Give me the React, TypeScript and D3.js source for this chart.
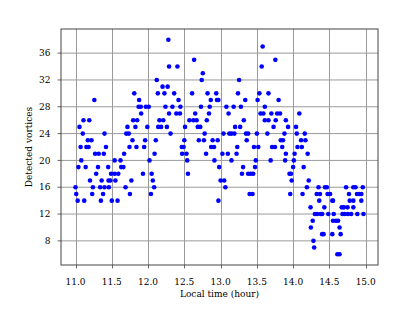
import React from "react";
import * as d3 from "d3";

// Detected vortex counts (integer levels) and the local times (hours) at which each level was observed
const levels: number[] = [38, 37, 35, 34, 33, 32, 31, 30, 29, 28, 27, 26, 25, 24, 23, 22, 21, 20, 19, 18, 17, 16, 15, 14, 13, 12, 11, 10, 9, 8, 7, 6];
const timesAtLevel: number[][] = [
  [12.28],
  [13.58],
  [12.635, 13.755],
  [12.29, 12.405, 13.567],
  [12.755],
  [12.12, 12.74, 13.255],
  [12.2, 12.27],
  [11.81, 12.135, 12.226, 12.36, 12.607, 12.82, 12.94, 13.24, 13.535, 13.66],
  [11.26, 11.877, 12.42, 12.865, 12.95, 12.97, 13.34, 13.51, 13.8],
  [11.87, 11.9, 11.97, 12.01, 12.24, 12.336, 12.446, 12.73, 12.85, 13.08, 13.18, 13.28, 13.61],
  [11.905, 12.29, 12.39, 12.44, 12.65, 12.84, 13.11, 13.55, 13.59, 13.7, 13.78, 13.82, 14.085],
  [11.11, 11.19, 11.795, 11.85, 12.157, 12.21, 12.57, 12.625, 12.67, 12.81, 13.32, 13.61, 13.66, 13.76, 13.9],
  [11.055, 11.716, 11.826, 11.99, 12.14, 12.18, 12.26, 12.51, 12.686, 12.72, 13.2, 13.27, 13.73, 13.93, 14.04],
  [11.1, 11.4, 11.7, 11.735, 12.31, 12.78, 13.04, 13.12, 13.15, 13.19, 13.35, 13.38, 13.5, 13.645, 13.88, 14.05, 14.16],
  [11.17, 11.22, 11.785, 11.96, 12.107, 12.5, 12.7, 12.77, 12.89, 12.96, 13.36, 13.83, 13.86, 14.11, 14.17],
  [11.07, 11.15, 11.18, 11.42, 11.744, 11.84, 11.946, 12.465, 12.49, 12.87, 12.91, 13.23, 13.46, 13.52, 13.71, 13.75, 13.85, 14.06, 14.12],
  [11.27, 11.32, 11.39, 11.67, 12.09, 12.47, 12.53, 12.8, 13.025, 13.1, 13.22, 13.9, 14.02, 14.2],
  [11.08, 11.54, 11.62, 12.02, 12.54, 12.915, 13.15, 13.485, 13.69, 13.89, 14.01],
  [11.04, 11.14, 11.31, 11.45, 11.63, 11.66, 12.98, 13.31, 13.475, 14.0, 14.145],
  [11.285, 11.49, 11.54, 11.59, 11.93, 12.05, 12.55, 13.295, 13.38, 13.415, 13.45, 13.95, 13.97],
  [11.2, 11.36, 11.455, 11.48, 11.55, 11.77, 12.066, 13.0, 13.05, 13.98, 14.215],
  [11.0, 11.24, 11.34, 11.4, 11.46, 11.69, 12.084, 13.066, 14.19, 14.35, 14.44, 14.465, 14.73, 14.83, 14.86, 14.96],
  [11.01, 11.23, 11.38, 11.75, 12.04, 13.4, 13.44, 13.96, 14.13, 14.325, 14.37, 14.475, 14.51, 14.77, 14.88, 14.91, 14.94],
  [11.03, 11.12, 11.35, 11.5, 11.58, 12.97, 14.36, 14.54, 14.55, 14.78, 14.83, 14.94],
  [14.24, 14.43, 14.67, 14.7, 14.75, 14.83],
  [14.3, 14.33, 14.38, 14.4, 14.485, 14.56, 14.68, 14.71, 14.755, 14.8, 14.885, 14.97],
  [14.27, 14.55, 14.59, 14.62],
  [14.245, 14.64],
  [14.4, 14.42, 14.54, 14.655],
  [14.28],
  [14.29],
  [14.61, 14.64],
];

const xTicks: number[] = [11.0, 11.5, 12.0, 12.5, 13.0, 13.5, 14.0, 14.5, 15.0];
const yTicks: number[] = [8, 12, 16, 20, 24, 28, 32, 36];

const W = 407;
const H = 324;
const M = { left: 61, right: 29, top: 29, bottom: 59 };
const FONT = "'DejaVu Serif', serif";

export default function App() {
  const x = d3.scaleLinear().domain([10.8, 15.17]).range([M.left, W - M.right]);
  const y = d3.scaleLinear().domain([4.4, 39.6]).range([H - M.bottom, M.top]);
  const points: { t: number; v: number }[] = [];
  levels.forEach((v, i) => timesAtLevel[i].forEach((t) => points.push({ t, v })));
  const x0 = M.left, x1 = W - M.right, y0 = M.top, y1 = H - M.bottom;

  return (
    <svg width={W} height={H} style={{ position: "absolute", left: 0, top: 0, background: "#fff" }}>
      <rect x={0} y={0} width={W} height={H} fill="#fff" />
      {/* grid */}
      {xTicks.map((t) => (
        <line key={"gx" + t} x1={Math.round(x(t)) + 0.5} x2={Math.round(x(t)) + 0.5} y1={y0} y2={y1} stroke="#9a9a9a" strokeWidth={1} />
      ))}
      {yTicks.map((t) => (
        <line key={"gy" + t} x1={x0} x2={x1} y1={y(t)} y2={y(t)} stroke="#9a9a9a" strokeWidth={1} />
      ))}
      {/* points */}
      {points.map((p, i) => (
        <circle key={i} cx={x(p.t)} cy={y(p.v)} r={2.3} fill="#0000ff" />
      ))}
      {/* frame */}
      <rect x={x0} y={y0} width={x1 - x0} height={y1 - y0} fill="none" stroke="#444" strokeWidth={1} />
      {/* x ticks */}
      {xTicks.map((t) => (
        <g key={"tx" + t}>
          <line x1={Math.round(x(t)) + 0.5} x2={Math.round(x(t)) + 0.5} y1={y1} y2={y1 + 3.5} stroke="#444" strokeWidth={0.8} />
          <text x={x(t)} y={y1 + 20} textAnchor="middle" fontFamily={FONT} fontSize={9} fill="#000">
            {t.toFixed(1)}
          </text>
        </g>
      ))}
      {/* y ticks */}
      {yTicks.map((t) => (
        <g key={"ty" + t}>
          <line x1={x0 - 3.5} x2={x0} y1={y(t)} y2={y(t)} stroke="#444" strokeWidth={0.8} />
          <text x={x0 - 10.5} y={y(t)} dy="0.35em" textAnchor="end" fontFamily={FONT} fontSize={9} fill="#000">
            {t}
          </text>
        </g>
      ))}
      <text x={(x0 + x1) / 2} y={y1 + 32} textAnchor="middle" fontFamily={FONT} fontSize={9} fill="#000">
        Local time (hour)
      </text>
      <text
        transform={`translate(${32},${(y0 + y1) / 2}) rotate(-90)`}
        textAnchor="middle"
        fontFamily={FONT}
        fontSize={9}
        fill="#000"
      >
        Detected vortices
      </text>
    </svg>
  );
}
